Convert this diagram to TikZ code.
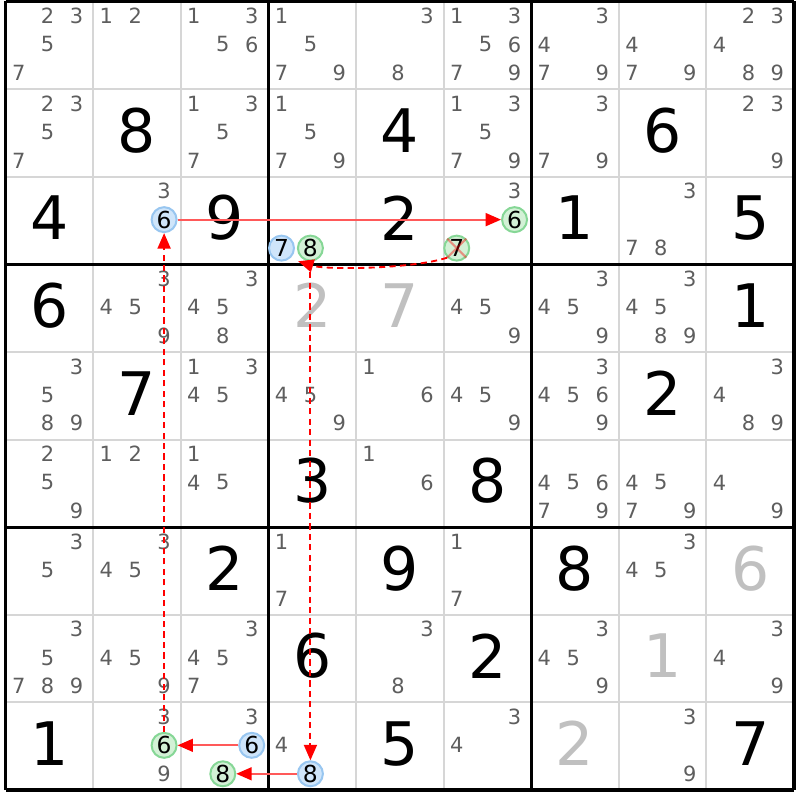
\documentclass[tikz,border=0pt]{standalone}
\usepackage{fontspec}
\setmainfont{DejaVu Sans}
\usepackage{tikz}
\usetikzlibrary{arrows.meta}

\definecolor{candgray}{HTML}{5E5E5E}
\definecolor{solvedgray}{HTML}{C0C0C0}
\definecolor{gridgray}{HTML}{D6D6D6}
\definecolor{bluefill}{HTML}{CFE5FA}
\definecolor{bluedraw}{HTML}{98C6F0}
\definecolor{greenfill}{HTML}{D3F1D6}
\definecolor{greendraw}{HTML}{86D796}

\newcommand{\putcand}[4][cand]{%
  \pgfmathsetmacro{\candx}{#3-0.52+(mod(#4-1,3)-1)*0.33}%
  \pgfmathsetmacro{\candy}{9.51-#2+(1-floor((#4-1)/3))*0.325}%
  \node[#1] (c#2#3-#4) at (\candx,\candy) {#4};%
}
\newcommand{\cands}[3]{\foreach \d in {#3} {\putcand{#1}{#2}{\d}}}

\begin{document}
\begin{tikzpicture}[
  cand/.style={inner sep=0pt, text=candgray, font=\fontsize{6.8}{7}\selectfont},
  given/.style={inner sep=0pt, font=\fontsize{19.5}{20}\selectfont},
  solved/.style={given, text=solvedgray},
  startcand/.style={cand, circle, text=black, draw=bluedraw, fill=bluefill, line width=0.65pt, minimum size=0.285cm, font=\fontsize{7.6}{8}\selectfont},
  endcand/.style={startcand, draw=greendraw, fill=greenfill},
  chainlink/.style={draw=red!65, line width=0.6pt, -{Triangle[length=5pt,width=4.2pt,color=red]}},
  chainweak/.style={chainlink, draw=red, dash pattern=on 2pt off 1.4pt},
  elim/.style={draw=red, draw opacity=0.4, line width=0.7pt}
]
\useasboundingbox (-0.063,-0.114) rectangle (9.046,9.017);
\fill[white] (-0.063,-0.114) rectangle (9.046,9.017);

\draw[gridgray, line width=0.65pt] (0,0) grid (9,9);
\draw[step=3, line width=1pt] (0,0) grid (9,9);

\foreach \r/\c/\v in {2/2/8, 2/5/4, 2/8/6, 3/1/4, 3/3/9, 3/5/2, 3/7/1, 3/9/5,
  4/1/6, 4/9/1, 5/2/7, 5/8/2, 6/4/3, 6/6/8, 7/3/2, 7/5/9, 7/7/8,
  8/4/6, 8/6/2, 9/1/1, 9/5/5, 9/9/7}
  \node[given] (g\r\c) at (\c-0.5,9.53-\r) {\v};
\foreach \r/\c/\v in {4/4/2, 4/5/7, 7/9/6, 8/8/1, 9/7/2}
  \node[solved] (g\r\c) at (\c-0.5,9.53-\r) {\v};

\cands{1}{1}{2,3,5,7} \cands{1}{2}{1,2} \cands{1}{3}{1,3,5,6} \cands{1}{4}{1,5,7,9}
\cands{1}{5}{3,8} \cands{1}{6}{1,3,5,6,7,9} \cands{1}{7}{3,4,7,9} \cands{1}{8}{4,7,9}
\cands{1}{9}{2,3,4,8,9}
\cands{2}{1}{2,3,5,7} \cands{2}{3}{1,3,5,7} \cands{2}{4}{1,5,7,9} \cands{2}{6}{1,3,5,7,9}
\cands{2}{7}{3,7,9} \cands{2}{9}{2,3,9}
\cands{3}{2}{3} \cands{3}{6}{3} \cands{3}{8}{3,7,8}
\cands{4}{2}{3,4,5,9} \cands{4}{3}{3,4,5,8} \cands{4}{6}{4,5,9} \cands{4}{7}{3,4,5,9}
\cands{4}{8}{3,4,5,8,9}
\cands{5}{1}{3,5,8,9} \cands{5}{3}{1,3,4,5} \cands{5}{4}{4,5,9} \cands{5}{5}{1,6}
\cands{5}{6}{4,5,9} \cands{5}{7}{3,4,5,6,9} \cands{5}{9}{3,4,8,9}
\cands{6}{1}{2,5,9} \cands{6}{2}{1,2} \cands{6}{3}{1,4,5} \cands{6}{5}{1,6}
\cands{6}{7}{4,5,6,7,9} \cands{6}{8}{4,5,7,9} \cands{6}{9}{4,9}
\cands{7}{1}{3,5} \cands{7}{2}{3,4,5} \cands{7}{4}{1,7} \cands{7}{6}{1,7} \cands{7}{8}{3,4,5}
\cands{8}{1}{3,5,7,8,9} \cands{8}{2}{4,5,9} \cands{8}{3}{3,4,5,7} \cands{8}{5}{3,8}
\cands{8}{7}{3,4,5,9} \cands{8}{9}{3,4,9}
\cands{9}{2}{3,9} \cands{9}{3}{3} \cands{9}{4}{4} \cands{9}{6}{3,4} \cands{9}{8}{3,9}

\putcand[startcand]{3}{2}{6}
\putcand[endcand]{3}{6}{6}
\putcand[endcand]{3}{6}{7}
\putcand[startcand]{3}{4}{7}
\putcand[endcand]{3}{4}{8}
\putcand[startcand]{9}{4}{8}
\putcand[endcand]{9}{3}{8}
\putcand[startcand]{9}{3}{6}
\putcand[endcand]{9}{2}{6}

\draw[elim] (c36-7.north west) -- (c36-7.south east)
  (c36-7.north east) -- (c36-7.south west);

\coordinate (elimtip) at ([shift={(-0.14,-0.15)}]c34-8.center);
\draw[chainlink] (c32-6) -- (c36-6);
\draw[chainweak] (c36-7.225) .. controls +(-0.4,-0.13) and +(0.32,-0.1) .. (elimtip);
\draw[chainweak] (c34-8) -- (c94-8);
\draw[chainlink] (c94-8) -- (c93-8);
\draw[chainlink] (c93-6) -- (c92-6);
\draw[chainweak] (c92-6) -- (c32-6);
\end{tikzpicture}
\end{document}
